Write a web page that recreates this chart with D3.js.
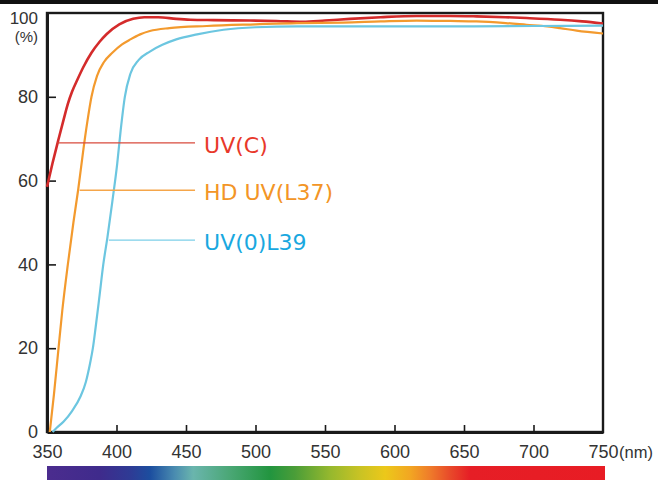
<!DOCTYPE html>
<html><head><meta charset="utf-8">
<script src="https://cdn.jsdelivr.net/npm/d3@7/dist/d3.min.js"></script>
<style>body{margin:0;background:#fff}svg{display:block}</style>
</head><body><svg id="c" width="658" height="480"></svg>
<script>
// ---- data ----
const xTicks = [350, 400, 450, 500, 550, 600, 650, 700, 750];
const yTicks = [0, 20, 40, 60, 80, 100];
const seriesNames = ["UV(C)", "HD UV(L37)", "UV(0)L39"];
const uvC = [[350,58.5],[354,64.2],[358,69.5],[362,74.6],[365,78.3],[368,81.2],[372,84.2],[376,87],[382,90.5],[388,93.2],[393,95],[402,97.3],[412,98.6],[420,99],[430,99],[443,98.6],[453,98.4],[470,98.3],[496,98.2],[515,98.1],[534,97.9],[550,98.2],[568,98.6],[590,99],[616,99.3],[640,99.3],[659,99.2],[680,99],[695,98.8],[719,98.4],[735,98],[750,97.5]];
const hdUvL37 = [[352,0],[355,9],[358,19],[361,29],[365,40],[369,50],[372.5,58],[376,67],[379,74],[382,80],[386,85],[391,88.3],[397,90.5],[404,92.5],[410,93.7],[417,94.9],[424,95.7],[438,96.4],[465,96.9],[500,97.3],[530,97.6],[563,97.7],[590,98],[616,98.2],[640,98.1],[659,98],[680,97.6],[695,97.2],[710,96.8],[719,96.4],[731,95.8],[750,95.1]];
const uv0L39 = [[354,0],[357,1],[362,2.5],[368,5],[374,8.4],[378,12],[381,16.4],[383,20],[385,25],[387.6,32],[390.5,40],[393.5,46.5],[397,55],[400.5,64],[403,72],[406,80],[410,85.5],[416,88.8],[424,90.8],[433,92.4],[443,93.7],[458,94.9],[477,96],[500,96.6],[530,96.8],[560,96.8],[600,96.8],[650,96.8],[700,96.9],[750,97]];
const seriesData = [uvC, hdUvL37, uv0L39];
const legendLevels = [69, 57.7, 45.8];
const legendStartNm = [357.5, 373.5, 394.5];
const legendEndNm = 456.5;

// ---- styles ----
const lineColors = ["#d42b2b", "#f39a2e", "#6cc6e0"];
const leaderColors = ["#d84a3c", "#f5a64a", "#7ccfe8"];
const textColors = ["#e8382a", "#f39526", "#19a8e0"];
const lineWidths = [2.6, 2.2, 2.2];
const spectrumStops = [
  [0, "#4b2c8e"], [0.095, "#3f2b8c"], [0.15, "#2e3b95"], [0.185, "#1c4e9f"],
  [0.229, "#4a8cb0"], [0.262, "#6ab5ad"], [0.328, "#4aa775"], [0.4, "#22953f"],
  [0.444, "#4a9d38"], [0.507, "#95b82e"], [0.561, "#c9c324"], [0.606, "#ecc81a"],
  [0.651, "#f2a622"], [0.686, "#ef7c2a"], [0.722, "#e84a2a"], [0.758, "#e61e26"], [1, "#e81c24"]
];

const svg = d3.select("#c");
const x = d3.scaleLinear().domain([350, 750]).range([47, 603]);
const y = d3.scaleLinear().domain([0, 100]).range([432, 13]);

svg.append("rect").attr("x", 0).attr("y", 0).attr("width", 658).attr("height", 480).attr("fill", "#fff");
svg.append("rect").attr("x", 0).attr("y", 0).attr("width", 658).attr("height", 4).attr("fill", "#111");

// spectrum bar
const defs = svg.append("defs");
const grad = defs.append("linearGradient").attr("id", "spec").attr("x1", "0%").attr("x2", "100%");
spectrumStops.forEach(s => grad.append("stop").attr("offset", s[0]).attr("stop-color", s[1]));
svg.append("rect").attr("x", x(350)).attr("y", 466).attr("width", x(750) - x(350) + 2).attr("height", 14).attr("fill", "url(#spec)");

// frame
svg.append("rect").attr("x", x(350)).attr("y", y(100)).attr("width", x(750) - x(350)).attr("height", y(0) - y(100))
  .attr("fill", "none").attr("stroke", "#1a1a1a").attr("stroke-width", 2.4);

// axes
const fontAxis = "'Liberation Sans', Arial, sans-serif";
const gx = svg.append("g").attr("transform", `translate(0,${y(0)})`)
  .call(d3.axisBottom(x).tickValues(xTicks).tickSize(-7).tickSizeOuter(0).tickPadding(13).tickFormat(d3.format("d")));
const gy = svg.append("g").attr("transform", `translate(${x(350)},0)`)
  .call(d3.axisLeft(y).tickValues(yTicks).tickSize(-9).tickSizeOuter(0).tickPadding(9).tickFormat(d3.format("d")));
[gx, gy].forEach(g => {
  g.select(".domain").attr("stroke", "#1a1a1a").attr("stroke-width", 3);
  g.selectAll(".tick line").attr("stroke", "#1a1a1a").attr("stroke-width", 1.6);
  g.selectAll(".tick text").attr("fill", "#333").style("font-family", fontAxis).style("font-size", "18px");
});
gx.selectAll(".tick").filter(d => d === 350 || d === 750).select("line").remove();
gy.selectAll(".tick").filter(d => d === 0 || d === 100).select("line").remove();
gy.selectAll(".tick").filter(d => d === 100).select("text").attr("y", 5).style("font-size", "17px");

svg.append("text").attr("x", 38).attr("y", 42).attr("text-anchor", "end").attr("fill", "#333")
  .style("font-family", fontAxis).style("font-size", "15px").text("(%)");
svg.append("text").attr("x", 619).attr("y", 458).attr("fill", "#333")
  .style("font-family", fontAxis).style("font-size", "16.5px").text("(nm)");

// curves
const line = d3.line().x(d => x(d[0])).y(d => y(d[1])).curve(d3.curveMonotoneX);
seriesData.forEach((s, i) => {
  svg.append("path").datum(s).attr("d", line).attr("fill", "none")
    .attr("stroke", lineColors[i]).attr("stroke-width", lineWidths[i]).attr("stroke-linejoin", "round");
});

// legend leaders and labels
seriesNames.forEach((name, i) => {
  const ly = y(legendLevels[i]);
  svg.append("line").attr("x1", x(legendStartNm[i])).attr("x2", x(legendEndNm)).attr("y1", ly).attr("y2", ly)
    .attr("stroke", leaderColors[i]).attr("stroke-width", 1.4);
  svg.append("text").attr("x", x(legendEndNm) + 9).attr("y", ly + 10).attr("fill", textColors[i])
    .style("font-family", "'DejaVu Sans', sans-serif").style("font-size", "22px").text(name);
});
</script></body></html>
